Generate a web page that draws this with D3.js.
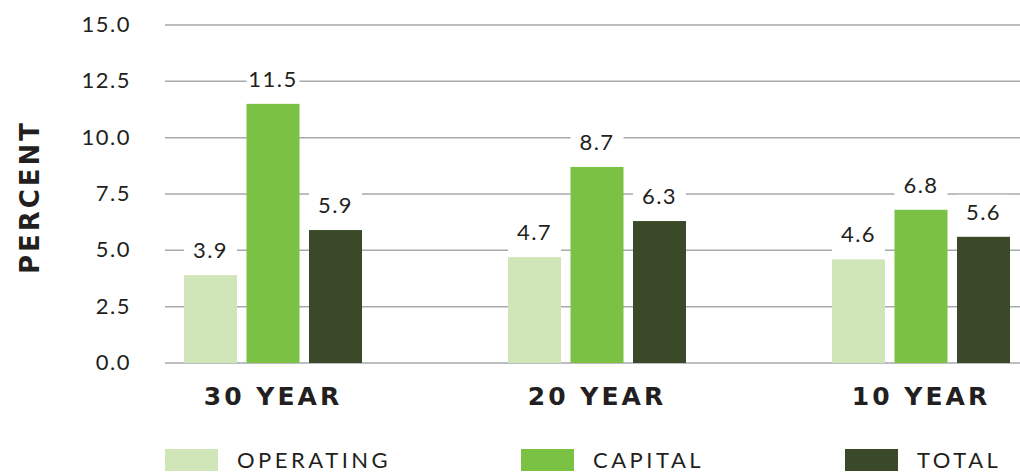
<!DOCTYPE html>
<html>
<head>
<meta charset="utf-8">
<script src="https://cdn.jsdelivr.net/npm/d3@7"></script>
<style>
  body { margin: 0; background: #fff; }
  text { font-family: Lato, "Open Sans", sans-serif; fill: #231f20; }
  .book { font-weight: 400; }
  .heavy { font-family: "DejaVu Sans", sans-serif; font-weight: bold; }
</style>
</head>
<body>
<div id="chart"></div>
<script>
// chart data
const periods = ["30 YEAR", "20 YEAR", "10 YEAR"]
const series = ["OPERATING", "CAPITAL", "TOTAL"]
const operating = [3.9, 4.7, 4.6]
const capital = [11.5, 8.7, 6.8]
const total = [5.9, 6.3, 5.6]
const yTicks = [0, 2.5, 5, 7.5, 10, 12.5, 15]

const colors = ["#d0e5b8", "#7bc143", "#3a4a28"]

const width = 1020
const height = 473

var svg = d3.select("#chart").append("svg")
  .attr("width", width)
  .attr("height", height)

var y = d3.scaleLinear().domain([0, 15]).range([363, 25])

var x0 = d3.scalePoint().domain(periods).range([273, 921])
var x1 = d3.scaleBand().domain(series).range([-89, 89]).paddingInner(0.152)

// gridlines
svg.append("g").selectAll("line")
  .data(yTicks)
  .enter().append("line")
  .attr("x1", 165).attr("x2", width)
  .attr("y1", d => y(d)).attr("y2", d => y(d))
  .attr("stroke", "#a7a9ac")
  .attr("stroke-width", 1.5)

// y tick labels
var yAxis = svg.append("g")
  .attr("transform", "translate(131,0)")
  .call(d3.axisLeft(y).tickValues(yTicks).tickFormat(d3.format(".1f")).tickSize(0).tickPadding(0))
yAxis.select(".domain").remove()
yAxis.selectAll("text")
  .attr("class", "book")
  .attr("dy", "0.3em")
  .style("font-size", "22px")
  .style("letter-spacing", "1.5px")
  .style("font-family", "Lato, sans-serif")
  .attr("fill", "#231f20")

svg.append("text")
  .attr("class", "heavy")
  .attr("transform", "translate(39,197) rotate(-90)")
  .attr("text-anchor", "middle")
  .style("font-size", "26px")
  .style("letter-spacing", "3px")
  .text("PERCENT")

// bars
var rows = []
periods.forEach(function(p, i) {
  rows.push({period: p, key: "OPERATING", value: operating[i], c: colors[0]})
  rows.push({period: p, key: "CAPITAL", value: capital[i], c: colors[1]})
  rows.push({period: p, key: "TOTAL", value: total[i], c: colors[2]})
})

// white boxes behind labels
svg.append("g").selectAll("rect")
  .data(rows)
  .enter().append("rect")
  .attr("x", d => x0(d.period) + x1(d.key))
  .attr("width", x1.bandwidth())
  .attr("y", d => y(d.value) - 42)
  .attr("height", 42)
  .attr("fill", "#fff")

svg.append("g").selectAll("rect")
  .data(rows)
  .enter().append("rect")
  .attr("x", d => x0(d.period) + x1(d.key))
  .attr("width", x1.bandwidth())
  .attr("y", d => y(d.value))
  .attr("height", d => y(0) - y(d.value))
  .attr("fill", d => d.c)

svg.append("g").selectAll("text")
  .data(rows)
  .enter().append("text")
  .attr("class", "book")
  .attr("x", d => x0(d.period) + x1(d.key) + x1.bandwidth() / 2)
  .attr("y", d => y(d.value) - 17)
  .attr("text-anchor", "middle")
  .style("font-size", "22px")
  .style("letter-spacing", "1.5px")
  .text(d => d.value.toFixed(1))

// category labels
svg.append("g").selectAll("text")
  .data(periods)
  .enter().append("text")
  .attr("class", "heavy")
  .attr("x", d => x0(d))
  .attr("y", 405)
  .attr("text-anchor", "middle")
  .style("font-size", "25px")
  .style("letter-spacing", "3px")
  .text(d => d)

// legend
var legendX = [165, 521, 845]
var legend = svg.append("g").selectAll("g")
  .data(series)
  .enter().append("g")
  .attr("transform", (d, i) => "translate(" + legendX[i] + ",449)")
legend.append("rect")
  .attr("width", 53).attr("height", 22)
  .attr("fill", (d, i) => colors[i])
legend.append("text")
  .attr("class", "book")
  .attr("x", 72).attr("y", 19)
  .style("font-size", "22px")
  .style("letter-spacing", "3.5px")
  .text(d => d)
</script>
</body>
</html>
